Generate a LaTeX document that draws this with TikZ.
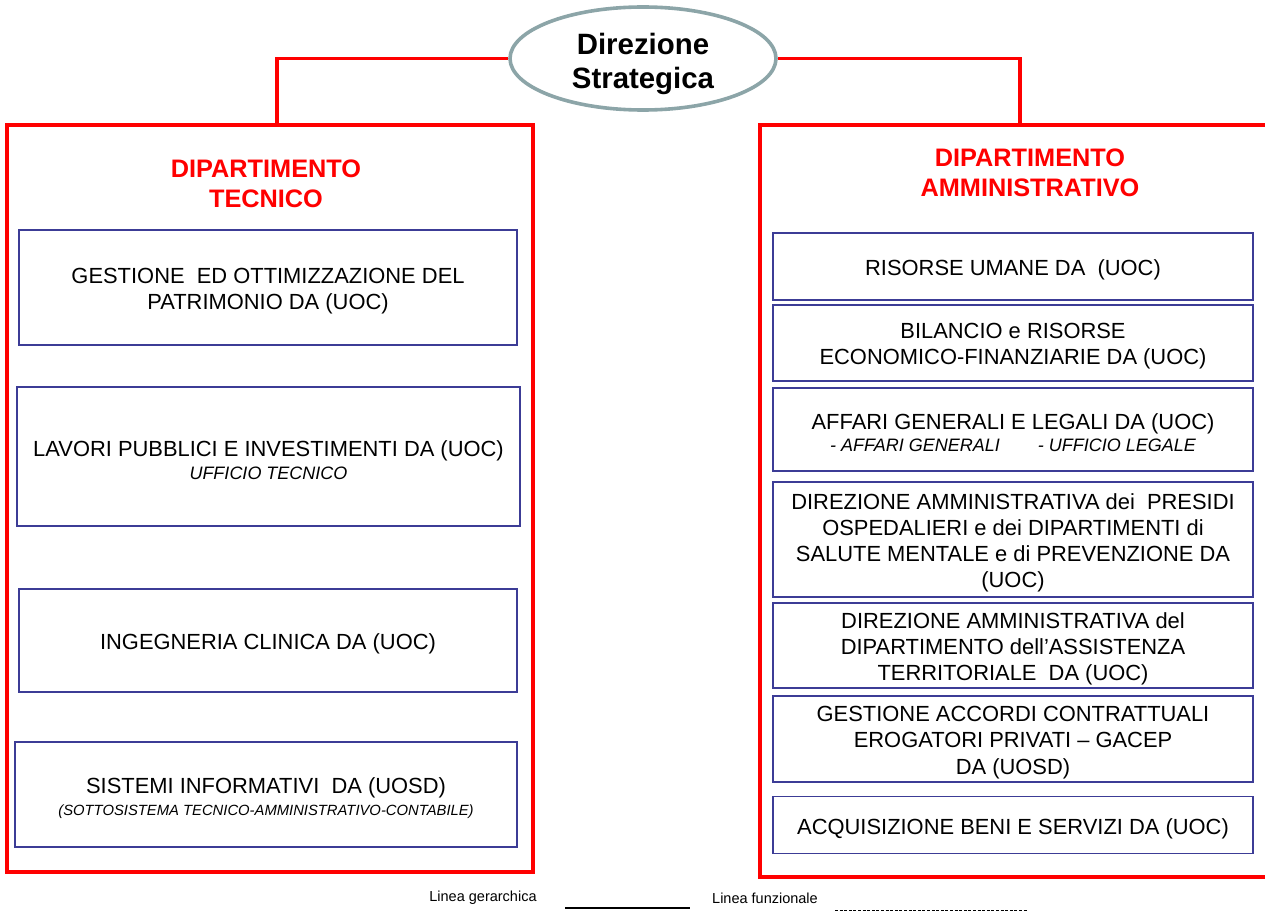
\documentclass[tikz,border=0pt]{standalone}
\usepackage{fontspec}
\setmainfont{Liberation Sans}
\usetikzlibrary{shapes.geometric}
\definecolor{boxblue}{RGB}{60,60,150}
\definecolor{ellgray}{RGB}{140,165,168}
\definecolor{pured}{RGB}{255,0,0}
\tikzset{
  redline/.style={draw=pured, line width=3.8pt},
  deptbox/.style={draw=pured, line width=3.5pt, rectangle, inner sep=0pt},
  ibox/.style={draw=boxblue, line width=1.3pt, rectangle, fill=white, inner sep=0pt},
  itext/.style={align=center, inner sep=0pt, font=\fontsize{21.9}{26.2}\selectfont},
  depttitle/.style={text=pured, align=center, font=\bfseries\fontsize{25.3}{30}\selectfont},
  legtext/.style={font=\fontsize{14.5}{17}\selectfont, anchor=center},
}
\newcommand{\subit}[1]{{\fontsize{18}{21}\selectfont\itshape #1}}
\newcommand{\subsm}[1]{{\fontsize{14.8}{18}\selectfont\itshape #1}}
% \ubox{name}{x}{y}{w}{h}{text}
\newcommand{\ubox}[6]{%
  \node[ibox, minimum width=#4, minimum height=#5] (#1) at (#2,#3) {};
  \node[itext] (#1t) at ([yshift=-3.5pt]#1.center) {#6};
}
\begin{document}
\begin{tikzpicture}[x=1pt,y=-1pt]
\useasboundingbox (0,0) rectangle (1265,912);

% department frames
\node[deptbox, minimum width=526, minimum height=747] (ldep) at (270,498.5) {};
\node[deptbox, minimum width=540, minimum height=752] (rdep) at (1030,501) {};

% junction points on top of department frames
\coordinate (lj) at (277,125);
\coordinate (rj) at (1020,125);

% central ellipse
\node[ellipse, draw=ellgray, line width=3.6pt, fill=white, minimum width=266, minimum height=103,
  inner sep=0pt] (dir) at (643,58.5) {};
\node[align=center, inner sep=0pt, font=\bfseries\fontsize{29.4}{34}\selectfont] (dirt)
  at ([yshift=-5pt]dir.center) {Direzione\\Strategica};

\draw[redline] (dir.west) -| (lj);
\draw[redline] (dir.east) -| (rj);

% titles
\node[depttitle] (ltit) at (266,184) {DIPARTIMENTO\\TECNICO};
\node[depttitle] (rtit) at (1030,173) {DIPARTIMENTO\\AMMINISTRATIVO};

% left boxes
\ubox{l1}{268}{287.5}{498}{115}{GESTIONE~ ED OTTIMIZZAZIONE DEL\\PATRIMONIO DA (UOC)}
\ubox{l2}{268.5}{456.5}{503}{139}{LAVORI PUBBLICI E INVESTIMENTI DA (UOC)\\[-3pt]\subit{UFFICIO TECNICO}}
\ubox{l3}{268}{640.5}{498}{103}{INGEGNERIA CLINICA DA (UOC)}
\ubox{l4}{266}{794.5}{502}{105}{SISTEMI INFORMATIVI~ DA (UOSD)\\[-4pt]\subsm{(SOTTOSISTEMA TECNICO-AMMINISTRATIVO-CONTABILE)}}

% right boxes
\ubox{r1}{1013}{266.5}{480}{67}{RISORSE UMANE DA~ (UOC)}
\ubox{r2}{1013}{343}{480}{76}{BILANCIO e RISORSE\\ECONOMICO-FINANZIARIE DA (UOC)}
\ubox{r3}{1013}{429.5}{480}{83}{AFFARI GENERALI E LEGALI DA (UOC)\\[-4pt]\subit{- AFFARI GENERALI\hspace{38pt}- UFFICIO LEGALE}}
\ubox{r4}{1013}{539.5}{480}{115}{DIREZIONE AMMINISTRATIVA dei~ PRESIDI\\OSPEDALIERI e dei DIPARTIMENTI di\\SALUTE MENTALE e di PREVENZIONE DA\\(UOC)}
\ubox{r5}{1013}{645.5}{480}{85}{DIREZIONE AMMINISTRATIVA del\\DIPARTIMENTO dell’ASSISTENZA\\TERRITORIALE~ DA (UOC)}
\ubox{r6}{1013}{739}{480}{86}{GESTIONE ACCORDI CONTRATTUALI\\EROGATORI PRIVATI -- GACEP\\DA (UOSD)}
\ubox{r7}{1013}{825}{480}{57}{ACQUISIZIONE BENI E SERVIZI DA (UOC)}

% legend
\node[legtext] (lg1) at (483,898) {Linea gerarchica};
\node[legtext] (lg2) at (765,898) {Linea funzionale};
\coordinate (s1) at (565,908);
\coordinate (s2) at (690,908);
\coordinate (d1) at (835,910);
\coordinate (d2) at (1028,910);
\draw[black, line width=2pt] (s1) -- (s2);
\draw[black, line width=1pt, dash pattern=on 3pt off 1.6pt] (d1) -- (d2);
\end{tikzpicture}
\end{document}
